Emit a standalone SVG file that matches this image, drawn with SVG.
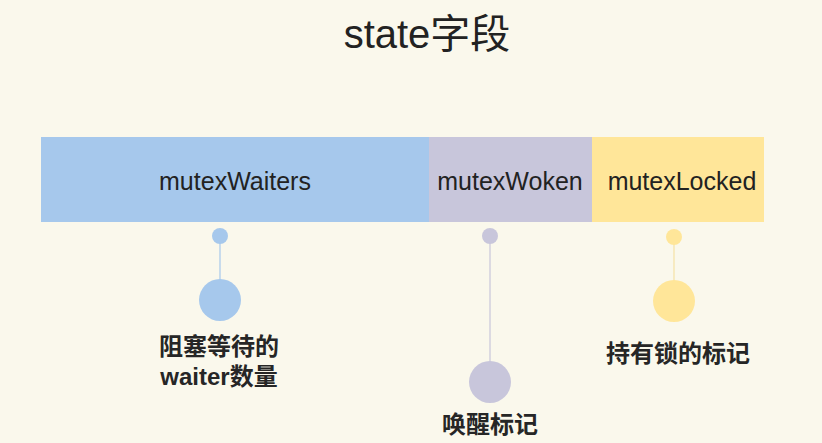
<svg xmlns="http://www.w3.org/2000/svg" width="822" height="443" viewBox="0 0 822 443">
  <style>
    .bg { fill: #FAF8EC; }
    .title { font-family: "Liberation Sans", "Noto Sans CJK SC", sans-serif; font-size: 40px; fill: #222; }
    .field { font-family: "Liberation Sans", "Noto Sans CJK SC", sans-serif; font-size: 25px; fill: #222; }
    .label { font-family: "Liberation Sans", "Noto Sans CJK SC", sans-serif; font-size: 24px; font-weight: 600; fill: #262626; }
    .blue { fill: #A6C8EC; }
    .purple { fill: #C8C6DB; }
    .yellow { fill: #FFE699; }
    .link { stroke-width: 1.2; fill: none; }
  </style>
  <rect class="bg" x="0" y="0" width="822" height="443"/>

  <text class="title" x="427" y="48" text-anchor="middle">state字段</text>

  <!-- bit fields of state -->
  <g id="field-waiters">
    <rect class="blue" x="41" y="137" width="388" height="85"/>
    <text class="field" x="235" y="190" text-anchor="middle">mutexWaiters</text>
  </g>
  <g id="field-woken">
    <rect class="purple" x="429" y="137" width="163" height="85"/>
    <text class="field" x="510" y="190" text-anchor="middle">mutexWoken</text>
  </g>
  <g id="field-locked">
    <rect class="yellow" x="592" y="137" width="172" height="85"/>
    <text class="field" x="682" y="190" text-anchor="middle">mutexLocked</text>
  </g>

  <!-- connector stems -->
  <g id="connectors">
    <line class="link" x1="220" y1="236" x2="220" y2="282" stroke="#A6C8EC"/>
    <line class="link" x1="490" y1="236" x2="490" y2="364" stroke="#C8C6DB"/>
    <line class="link" x1="674" y1="237" x2="674" y2="283" stroke="#F5E2A6"/>
  </g>

  <!-- annotation nodes -->
  <g id="note-waiters">
    <circle class="blue" cx="220" cy="236" r="8"/>
    <circle class="blue" cx="220" cy="300" r="21"/>
    <text class="label" x="219" y="355" text-anchor="middle">阻塞等待的</text>
    <text class="label" x="219" y="385" text-anchor="middle">waiter数量</text>
  </g>
  <g id="note-woken">
    <circle class="purple" cx="490" cy="236" r="8"/>
    <circle class="purple" cx="490" cy="382" r="21"/>
    <text class="label" x="490" y="433" text-anchor="middle">唤醒标记</text>
  </g>
  <g id="note-locked">
    <circle class="yellow" cx="674" cy="237" r="8"/>
    <circle class="yellow" cx="674" cy="301" r="21"/>
    <text class="label" x="678" y="362" text-anchor="middle">持有锁的标记</text>
  </g>
</svg>
